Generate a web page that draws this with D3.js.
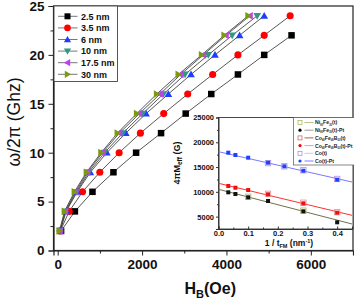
<!DOCTYPE html>
<html>
<head>
<meta charset="utf-8">
<script src="https://cdn.jsdelivr.net/npm/d3@7"></script>
<style>
  body { margin: 0; background: #fff; }
  svg { display: block; font-family: "Liberation Sans", Arial, sans-serif; }
</style>
</head>
<body>
<div id="chart"></div>
<script>
// main panel: field (Oe) needed for each frequency (GHz)
const freqs = [2, 4, 6, 8, 10, 12, 14, 16, 18, 20, 22, 24];
const seriesNames = ["2.5 nm", "3.5 nm", "6 nm", "10 nm", "17.5 nm", "30 nm"];
const field25 = [80, 407, 824, 1321, 1858, 2450, 3034, 3640, 4272, 4895, 5543];
const field35 = [60, 272, 588, 998, 1456, 1960, 2513, 3082, 3673, 4272, 4895, 5510];
const field6 = [60, 200, 462, 773, 1164, 1614, 2095, 2623, 3160, 3728, 4312, 4895];
const field10 = [55, 185, 445, 738, 1108, 1543, 2016, 2505, 3018, 3570, 4137, 4729];
const field175 = [50, 178, 421, 705, 1060, 1463, 1936, 2426, 2916, 3451, 3988, 4556];
const field30 = [40, 161, 398, 682, 1030, 1416, 1874, 2348, 2860, 3413, 3948, 4516];
const xTicks = [0, 2000, 4000, 6000];
const yTicks = [0, 5, 10, 15, 20, 25];

// inset: 4piMeff vs 1/t
const invT = [0.033, 0.057, 0.1, 0.167, 0.286, 0.4];
const invTCo = [0.033, 0.057, 0.1, 0.167, 0.222, 0.286, 0.4];
const coPt = [17900, 17430, 16890, 15880, 15150, 14260, 12450];
const cofebPt = [11180, 10830, 10370, 9500, 7680, 5790];
const nifePt = [9900, 9560, 8900, 8150, 6070, 3850];
const invTCoOpen = [0.167, 0.222, 0.286, 0.4];
const coOpen = [15800, 15150, 14350, 12600];
const invTCofebOpen = [0.167, 0.286, 0.4];
const cofebOpen = [9600, 7800, 5900];
const invTNifeOpen = [0.1, 0.286];
const nifeOpen = [9000, 6200];
const fitX = [0, 0.45];
const coFit = [18100, 11980];
const cofebFit = [11720, 5260];
const nifeFit = [10510, 3510];
const insetXTicks = [0, 0.1, 0.2, 0.3, 0.4];
const insetYTicks = [5000, 10000, 15000, 20000, 25000];

const W = 354, H = 303;
const svg = d3.select("#chart").append("svg").attr("width", W).attr("height", H);

const x = d3.scaleLinear().domain([-100, 7000]).range([53.5, 353]);
const y = d3.scaleLinear().domain([0, 25]).range([250.5, 6]);

const colors = ["#000000", "#ff0000", "#1f3cff", "#2e9a82", "#c040f0", "#7a9a10"];
const shapes = ["square", "circle", "up", "down", "left", "right"];
const fields = [field25, field35, field6, field10, field175, field30];

function marker(g, shape, cx, cy, s, fill) {
  let el;
  if (shape === "square") {
    el = g.append("rect").attr("x", cx - s / 2).attr("y", cy - s / 2).attr("width", s).attr("height", s);
  } else if (shape === "circle") {
    el = g.append("circle").attr("cx", cx).attr("cy", cy).attr("r", s / 2 + 0.3);
  } else {
    const h = s / 2 + 0.6;
    const pts = {
      up: [[0, -h], [h, h * 0.75], [-h, h * 0.75]],
      down: [[0, h], [h, -h * 0.75], [-h, -h * 0.75]],
      left: [[-h, 0], [h * 0.75, -h], [h * 0.75, h]],
      right: [[h, 0], [-h * 0.75, -h], [-h * 0.75, h]]
    }[shape];
    el = g.append("polygon").attr("points", pts.map(p => [cx + p[0], cy + p[1]].join(",")).join(" "));
  }
  el.attr("fill", fill);
  return el;
}

// frame
svg.append("rect").attr("x", 53.5).attr("y", 6).attr("width", 299.5).attr("height", 244.5)
  .attr("fill", "none").attr("stroke", "#222").attr("stroke-width", 1.2);

// axes
const xAxis = svg.append("g").attr("transform", "translate(0,250.5)")
  .call(d3.axisBottom(x).tickValues(xTicks).tickSize(5).tickPadding(4).tickFormat(d3.format("d")));
svg.append("g").attr("transform", "translate(0,250.5)")
  .call(d3.axisBottom(x).tickValues([1000, 3000, 5000]).tickSize(3).tickFormat(""))
  .call(g => g.select(".domain").remove());
const yAxis = svg.append("g").attr("transform", "translate(53.5,0)")
  .call(d3.axisLeft(y).tickValues(yTicks).tickSize(5).tickPadding(4));
svg.append("g").attr("transform", "translate(53.5,0)")
  .call(d3.axisLeft(y).tickValues([2.5, 7.5, 12.5, 17.5, 22.5]).tickSize(3).tickFormat(""))
  .call(g => g.select(".domain").remove());
svg.selectAll(".domain").attr("stroke", "#222").attr("stroke-width", 1.2);
svg.selectAll(".tick line").attr("stroke", "#222");
xAxis.selectAll("text").attr("font-size", 13.5).attr("font-weight", "bold").attr("fill", "#111")
  .attr("font-family", "Liberation Sans, Arial, sans-serif");
yAxis.selectAll("text").attr("font-size", 13.5).attr("font-weight", "bold").attr("fill", "#111")
  .attr("font-family", "Liberation Sans, Arial, sans-serif");

// axis titles
svg.append("text").attr("transform", "translate(20,122) rotate(-90)").attr("text-anchor", "middle")
  .attr("font-size", 17.5).attr("fill", "#111").text("ω/2π (Ghz)");
const xl = svg.append("text").attr("x", 184.5).attr("y", 293.5).attr("font-size", 16)
  .attr("font-weight", "bold").attr("fill", "#111");
xl.append("tspan").text("H");
xl.append("tspan").attr("font-size", 11).attr("dy", 4).text("B");
xl.append("tspan").attr("dy", -4).text("(Oe)");

// data lines + markers
const line = d3.line().x(d => x(d[0])).y(d => y(d[1]));
fields.forEach((f, i) => {
  const pts = f.map((v, j) => [v, freqs[j]]);
  svg.append("path").attr("d", line(pts)).attr("fill", "none").attr("stroke", "#444").attr("stroke-width", 0.9);
});
fields.forEach((f, i) => {
  const g = svg.append("g");
  f.forEach((v, j) => marker(g, shapes[i], x(v), y(freqs[j]), 6.5, colors[i]));
});

// main legend
const lg = svg.append("g");
lg.append("rect").attr("x", 54).attr("y", 6).attr("width", 63.5).attr("height", 75.5)
  .attr("fill", "#fff").attr("stroke", "#444").attr("stroke-width", 0.9);
seriesNames.forEach((name, i) => {
  const cy = 16.3 + i * 11.6;
  lg.append("line").attr("x1", 58).attr("x2", 77.5).attr("y1", cy).attr("y2", cy)
    .attr("stroke", "#777").attr("stroke-width", 1);
  marker(lg, shapes[i], 67.5, cy, 6, colors[i]);
  lg.append("text").attr("x", 81).attr("y", cy + 3.2).attr("font-size", 9).attr("font-weight", "bold")
    .attr("fill", "#111").text(name);
});

// ---- inset ----
const ix = d3.scaleLinear().domain([0, 0.45]).range([218.5, 352]);
const iy = d3.scaleLinear().domain([2500, 25000]).range([229, 117.5]);
const ins = svg.append("g");
ins.append("rect").attr("x", 218.5).attr("y", 117.5).attr("width", 134.5).attr("height", 111.5)
  .attr("fill", "#fff").attr("stroke", "#333").attr("stroke-width", 0.9);

const ixAxis = ins.append("g").attr("transform", "translate(0,229)")
  .call(d3.axisBottom(ix).tickValues(insetXTicks).tickSize(-2.5).tickFormat(d3.format(".1f")));
ixAxis.selectAll("text").attr("y", 1.2);
ins.append("g").attr("transform", "translate(0,229)")
  .call(d3.axisBottom(ix).tickValues([0.05, 0.15, 0.25, 0.35, 0.45]).tickSize(-1.5).tickFormat(""))
  .call(g => g.select(".domain").remove());
const iyAxis = ins.append("g").attr("transform", "translate(218.5,0)")
  .call(d3.axisLeft(iy).tickValues(insetYTicks).tickSize(2.5).tickPadding(2).tickFormat(d3.format("d")));
ins.append("g").attr("transform", "translate(218.5,0)")
  .call(d3.axisLeft(iy).tickValues([7500, 12500, 17500, 22500]).tickSize(1.5).tickFormat(""))
  .call(g => g.select(".domain").remove());
ins.selectAll(".domain").attr("stroke", "#333");
ins.selectAll(".tick line").attr("stroke", "#333");
ins.selectAll("text").attr("font-size", 7.5).attr("font-weight", "bold").attr("fill", "#111")
  .attr("font-family", "Liberation Sans, Arial, sans-serif");

const ixl = ins.append("text").attr("x", 289).attr("y", 246).attr("text-anchor", "middle")
  .attr("font-size", 8.5).attr("font-weight", "bold").attr("fill", "#111");
ixl.append("tspan").text("1 / t");
ixl.append("tspan").attr("font-size", 5.5).attr("dy", 2).text("FM");
ixl.append("tspan").attr("dy", -2).text(" (nm");
ixl.append("tspan").attr("font-size", 5.5).attr("dy", -3).text("-1");
ixl.append("tspan").attr("dy", 3).text(")");

const iyl = ins.append("text").attr("transform", "translate(180,163) rotate(-90)").attr("text-anchor", "middle")
  .attr("font-size", 9).attr("font-weight", "bold").attr("fill", "#111");
iyl.append("tspan").text("4πM");
iyl.append("tspan").attr("font-size", 6.5).attr("dy", 2).text("eff");
iyl.append("tspan").attr("dy", -2).text(" (G)");

// fit lines
const iline = d3.line().x(d => ix(d[0])).y(d => iy(d[1]));
[[coFit, "#7878ff"], [cofebFit, "#ff3030"], [nifeFit, "#70704a"]].forEach(([f, c]) => {
  ins.append("path").attr("d", iline(fitX.map((v, j) => [v, f[j]]))).attr("fill", "none")
    .attr("stroke", c).attr("stroke-width", 1);
});

// open squares (bare films) then filled (Pt capped)
[[invTCoOpen, coOpen, "#b090e8"], [invTCofebOpen, cofebOpen, "#e09090"], [invTNifeOpen, nifeOpen, "#b0b070"]]
  .forEach(([xs, vs, c]) => {
    xs.forEach((v, j) => ins.append("rect").attr("x", ix(v) - 2.7).attr("y", iy(vs[j]) - 2.7)
      .attr("width", 5.4).attr("height", 5.4).attr("fill", "none").attr("stroke", c).attr("stroke-width", 0.8));
  });
[[invTCo, coPt, "#2040ff"], [invT, cofebPt, "#ee1010"], [invT, nifePt, "#111"]].forEach(([xs, vs, c]) => {
  xs.forEach((v, j) => ins.append("rect").attr("x", ix(v) - 2).attr("y", iy(vs[j]) - 2)
    .attr("width", 4).attr("height", 4).attr("fill", c));
});

// inset legend
const il = ins.append("g");
il.append("rect").attr("x", 293.5).attr("y", 117.5).attr("width", 62).attr("height", 47.5)
  .attr("fill", "#fff").attr("stroke", "#555").attr("stroke-width", 0.7);
const insetLegend = [
  { parts: [["Ni"], ["80", 1], ["Fe"], ["20", 1], ["(t)"]], open: true, mc: "#a0b050", lc: "#b0b890" },
  { parts: [["Ni"], ["80", 1], ["Fe"], ["20", 1], ["(t)-Pt"]], open: false, mc: "#000", lc: "#909090" },
  { parts: [["Co"], ["40", 1], ["Fe"], ["40", 1], ["B"], ["20", 1], ["(t)"]], open: true, mc: "#c06060", lc: "#b04848" },
  { parts: [["Co"], ["40", 1], ["Fe"], ["40", 1], ["B"], ["20", 1], ["(t)-Pt"]], open: false, mc: "#ff0000", lc: "#ff8888" },
  { parts: [["Co(t)"]], open: true, mc: "#a080e0", lc: "#c8c0f0" },
  { parts: [["Co(t)-Pt"]], open: false, mc: "#2040ff", lc: "#7070ff" }
];
insetLegend.forEach((e, i) => {
  const cy = 122.5 + i * 7.7;
  il.append("line").attr("x1", 304.5).attr("x2", 313.5).attr("y1", cy).attr("y2", cy)
    .attr("stroke", e.lc).attr("stroke-width", 0.9);
  if (e.open) {
    il.append("rect").attr("x", 298).attr("y", cy - 2).attr("width", 4).attr("height", 4)
      .attr("fill", "none").attr("stroke", e.mc).attr("stroke-width", 0.7);
  } else {
    il.append("circle").attr("cx", 300).attr("cy", cy).attr("r", 1.6).attr("fill", e.mc);
  }
  const t = il.append("text").attr("x", 315).attr("y", cy + 1.9).attr("font-size", 5.2)
    .attr("font-weight", "bold").attr("fill", "#222");
  let low = false;
  e.parts.forEach(p => {
    const sub = !!p[1];
    const dy = sub && !low ? 1.1 : (!sub && low ? -1.1 : 0);
    t.append("tspan").attr("font-size", sub ? 2.6 : 5.2).attr("dy", dy).text(p[0]);
    low = sub;
  });
});
</script>
</body>
</html>
